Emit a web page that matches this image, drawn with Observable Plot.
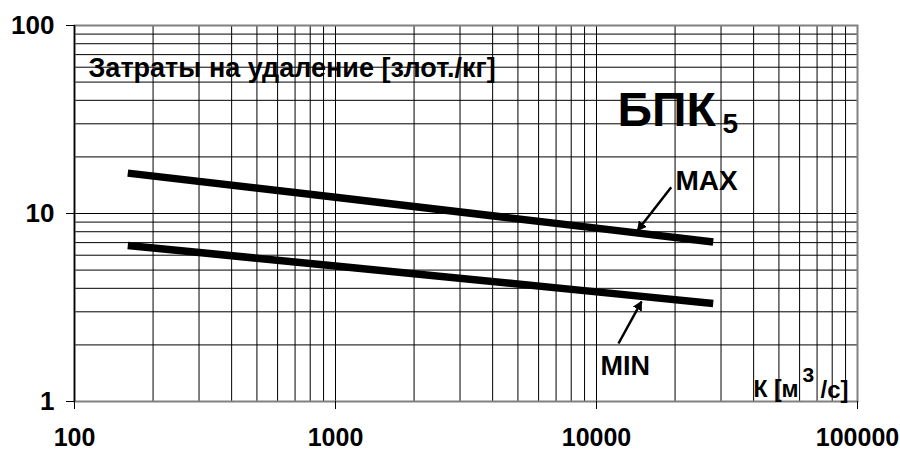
<!DOCTYPE html>
<html><head><meta charset="utf-8">
<script src="https://cdn.jsdelivr.net/npm/d3@7"></script>
<script src="https://cdn.jsdelivr.net/npm/@observablehq/plot@0.6"></script>
<style>body{margin:0;background:#fff} #chart{width:900px;height:452px}</style>
</head><body><div id="chart"></div>
<script>
// Data (log-log, straight lines)
const flowK   = [160, 1000, 10000, 28000];
const costMax = [16.4, 12.2, 8.36, 7.05];
const costMin = [6.76, 5.26, 3.83, 3.32];

const xMajorTicks = [100, 1000, 10000, 100000];
const yMajorTicks = [1, 10, 100];
const xGridValues = [100, 200, 300, 400, 500, 600, 700, 800, 900,
                     1000, 2000, 3000, 4000, 5000, 6000, 7000, 8000, 9000,
                     10000, 20000, 30000, 40000, 50000, 60000, 70000, 80000, 90000, 100000];
const yGridValues = [1, 2, 3, 4, 5, 6, 7, 8, 9, 10, 20, 30, 40, 50, 60, 70, 80, 90, 100];

const maxData = flowK.map((k, i) => ({k, v: costMax[i]}));
const minData = flowK.map((k, i) => ({k, v: costMin[i]}));

const font = "'Liberation Sans', Arial, sans-serif";

const texts = [
  {x: 113.1, y: 67.5, t: "Затраты на удаление [злот./кг]", s: 27},
  {x: 12036, y: 44.5, t: "БПК", s: 48},
  {x: 30400, y: 34.0, t: "5", s: 28},
  {x: 20080, y: 16.93, t: "MAX", s: 28},
  {x: 10360, y: 1.757, t: "MIN", s: 27},
  {x: 39950, y: 1.285, t: "К [м", s: 23},
  {x: 61550, y: 1.53, t: "3", s: 21},
  {x: 72150, y: 1.285, t: "/с]", s: 24}
];

const arrows = [
  {x1: 19330, y1: 13.80, x2: 14360, y2: 8.12},
  {x1: 12140, y1: 2.035, x2: 14875, y2: 3.40}
];

const chart = Plot.plot({
  width: 900,
  height: 452,
  marginLeft: 74,
  marginRight: 43,
  marginTop: 25,
  marginBottom: 51,
  style: {fontFamily: font, fontWeight: "bold", color: "#000", background: "#fff"},
  x: {type: "log", domain: [100, 100000]},
  y: {type: "log", domain: [1, 100]},
  marks: [
    Plot.gridX(xGridValues, {stroke: "#000", strokeOpacity: 1, strokeWidth: 1}),
    Plot.gridY(yGridValues, {stroke: "#000", strokeOpacity: 1, strokeWidth: 1}),
    Plot.frame({stroke: "#808080", strokeWidth: 2}),
    Plot.ruleX([100], {stroke: "#000", strokeWidth: 1.5}),
    Plot.line(maxData, {x: "k", y: "v", stroke: "#000", strokeWidth: 7.5, strokeLinecap: "butt"}),
    Plot.line(minData, {x: "k", y: "v", stroke: "#000", strokeWidth: 7.5, strokeLinecap: "butt"}),
    ...texts.map(d => Plot.text([d], {x: "x", y: "y", text: "t", fontSize: d.s, fontWeight: "bold",
      textAnchor: "start", lineAnchor: "top", fill: "#000", fontFamily: font})),
    Plot.link(arrows, {x1: "x1", y1: "y1", x2: "x2", y2: "y2", stroke: "#000", strokeWidth: 2.5, markerEnd: "arrow"}),
    Plot.axisX(xMajorTicks, {tickSize: 8, tickPadding: 19, fontSize: 25, fontWeight: "bold", tickFormat: d3.format("d"), stroke: "#000"}),
    Plot.axisY(yMajorTicks, {tickSize: 8, tickPadding: 12, fontSize: 26, fontWeight: "bold", tickFormat: d3.format("d"), stroke: "#000"})
  ]
});

// Make arrowheads filled triangles as in the reference
chart.querySelectorAll("marker").forEach(m => {
  m.setAttribute("fill", "#000");
  m.setAttribute("stroke", "none");
  m.querySelectorAll("path").forEach(p => p.setAttribute("d", "M-6,-3.5L0.5,0L-6,3.5Z"));
});

document.getElementById("chart").appendChild(chart);
</script>
</body></html>
